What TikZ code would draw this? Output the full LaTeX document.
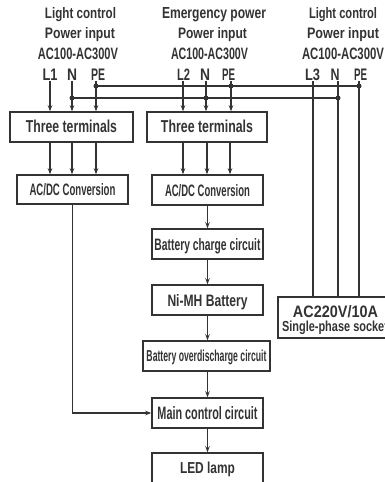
\documentclass[tikz,border=0pt]{standalone}
\usepackage{fontspec}
\usepackage{graphicx}
\setmainfont{Liberation Sans}
\usetikzlibrary{arrows.meta}
\definecolor{ink}{HTML}{333333}
\newcommand{\fitt}[3]{\resizebox{#1pt}{#2pt}{\bfseries #3}}
\tikzset{
  box/.style={draw=ink, line width=1.5pt, inner sep=0pt, text=ink, text depth=0pt},
  lbl/.style={text=ink, inner sep=0pt, anchor=base},
  wire/.style={draw=ink, line width=1.2pt},
  arr/.style={wire, -{Stealth[length=6pt,width=4.5pt]}},
  dot/.style={circle, fill=ink, inner sep=0pt, minimum size=5pt},
}
\begin{document}
\begin{tikzpicture}[x=1pt,y=-1pt]
\useasboundingbox (0,0) rectangle (384,482);
% headers, left
\node[lbl] (a1) at (80.5,18) {\fitt{71}{11}{Light control}};
\node[lbl] (a2) at (80,38) {\fitt{70}{11}{Power input}};
\node[lbl] (a3) at (78,59.5) {\fitt{80}{11.5}{AC100-AC300V}};
\node[lbl] (l1) at (50,80) {\fitt{15}{11.5}{L1}};
\node[lbl] (n1) at (72,80) {\fitt{10}{11.5}{N}};
\node[lbl] (p1) at (98,80) {\fitt{14}{11.5}{PE}};
% headers, middle
\node[lbl] (b1) at (214,18) {\fitt{104}{11}{Emergency power}};
\node[lbl] (b2) at (212.5,38) {\fitt{69}{11}{Power input}};
\node[lbl] (b3) at (209.5,59.5) {\fitt{77}{11.5}{AC100-AC300V}};
\node[lbl] (l2) at (183.5,80) {\fitt{13}{11.5}{L2}};
\node[lbl] (n2) at (205,80) {\fitt{10}{11.5}{N}};
\node[lbl] (p2) at (228.5,80) {\fitt{13}{11.5}{PE}};
% headers, right
\node[lbl] (c1) at (343,18) {\fitt{68}{11}{Light control}};
\node[lbl] (c2) at (343,38) {\fitt{72}{11}{Power input}};
\node[lbl] (c3) at (343,59.5) {\fitt{82}{11.5}{AC100-AC300V}};
\node[lbl] (l3) at (312.5,80) {\fitt{15}{11.5}{L3}};
\node[lbl] (n3) at (335,80) {\fitt{9}{11.5}{N}};
\node[lbl] (p3) at (360.5,80) {\fitt{13}{11.5}{PE}};
% boxes
\node[box, minimum width=123pt, minimum height=30pt, text height=12.5pt, text depth=1pt] (lt) at (71.5,127) {\fitt{91}{12.5}{Three terminals}};
\node[box, minimum width=120pt, minimum height=30pt, text height=12.5pt, text depth=1pt] (mt) at (207,127) {\fitt{92}{12.5}{Three terminals}};
\node[box, minimum width=111pt, minimum height=29pt, text height=12pt] (la) at (72.5,189.5) {\fitt{86}{12}{AC/DC Conversion}};
\node[box, minimum width=111pt, minimum height=30pt, text height=12pt] (ma) at (207.5,190) {\fitt{85}{12}{AC/DC Conversion}};
\node[box, minimum width=111pt, minimum height=30pt, text height=12pt] (bc) at (207.5,244) {\fitt{106}{12}{Battery charge circuit}};
\node[box, minimum width=111pt, minimum height=30pt, text height=12pt] (nb) at (207.5,300) {\fitt{80}{12}{Ni-MH Battery}};
\node[box, minimum width=127pt, minimum height=30pt, text height=11.5pt] (bo) at (206.5,356) {\fitt{120}{11.5}{Battery overdischarge circuit}};
\node[box, minimum width=111pt, minimum height=30pt, text height=13pt, text depth=1pt] (mc) at (207.5,413) {\fitt{100}{13}{Main control circuit}};
\node[box, minimum width=111pt, minimum height=34pt, text height=11.5pt, text depth=4.5pt] (led) at (207.5,470) {\fitt{55}{11.5}{LED lamp}};
\node[box, minimum width=110pt, minimum height=41pt] (so) at (333,317.5) {};
\node[lbl] (s1) at (335.5,317) {\fitt{85}{12}{AC220V/10A}};
\node[lbl] (s2) at (335,331.5) {\fitt{106}{10.5}{Single-phase socket}};
% wire tops
\coordinate (wl1) at (50,81);
\coordinate (wn1) at (72,81);
\coordinate (wp1) at (96,81);
\coordinate (wl2) at (183,81);
\coordinate (wn2) at (206,81);
\coordinate (wp2) at (231,81);
\coordinate (wl3) at (313,81);
\coordinate (wn3) at (338,81);
\coordinate (wp3) at (359,81);
% bus
\coordinate (pb1) at (96,86);
\coordinate (pb2) at (231,86);
\coordinate (pb3) at (359,86);
\coordinate (nb1) at (72,98);
\coordinate (nb2) at (206,98);
\coordinate (nb3) at (338,98);
\draw[wire] (pb1) -- (pb3);
\draw[wire] (nb1) -- (nb3);
% input arrows
\draw[arr] (wl1) -- (wl1 |- lt.north);
\draw[arr] (wn1) -- (wn1 |- lt.north);
\draw[arr] (wp1) -- (wp1 |- lt.north);
\draw[arr] (wl2) -- (wl2 |- mt.north);
\draw[arr] (wn2) -- (wn2 |- mt.north);
\draw[arr] (wp2) -- (wp2 |- mt.north);
\draw[wire] (wl3) -- (wl3 |- so.north);
\draw[wire] (wn3) -- (wn3 |- so.north);
\draw[wire] (wp3) -- (wp3 |- so.north);
\node[dot] (d1) at (pb1) {};
\node[dot] (d2) at (pb2) {};
\node[dot] (d3) at (pb3) {};
\node[dot] (d4) at (nb1) {};
\node[dot] (d5) at (nb2) {};
\node[dot] (d6) at (nb3) {};
% terminals to AC/DC
\foreach \x in {50,72,96} \draw[arr] (\x,0 |- lt.south) -- (\x,0 |- la.north);
\foreach \x in {183,207,230} \draw[arr] (\x,0 |- mt.south) -- (\x,0 |- ma.north);
% middle chain
\begin{scope}[xshift=-0.5pt]
\draw[arr] (ma) -- (bc);
\draw[arr] (bc) -- (nb);
\draw[arr] (nb) -- (bo.north -| nb);
\draw[arr] (bo.south -| mc) -- (mc);
\draw[arr] (mc) -- (led);
\end{scope}
\draw[arr] (la.south) -- (la.south |- mc.west) -- (mc.west);
\end{tikzpicture}
\end{document}
